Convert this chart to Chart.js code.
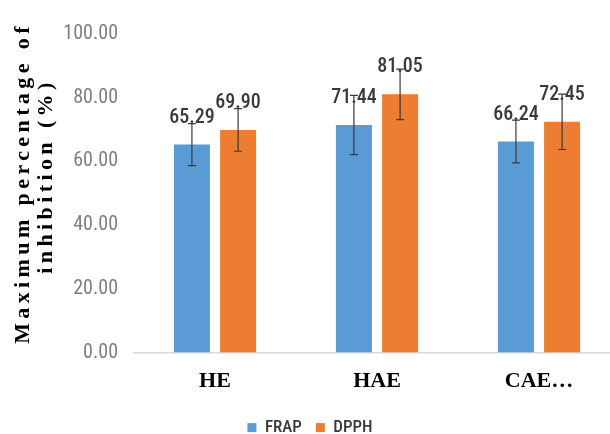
<!DOCTYPE html>
<html>
<head>
<meta charset="utf-8">
<script src="https://cdn.jsdelivr.net/npm/chart.js@4.4.0/dist/chart.umd.min.js"></script>
<style>
  html, body { margin: 0; padding: 0; background: #fff; overflow: hidden; }
  #wrap { width: 620px; height: 434px; }
</style>
</head>
<body>
<div id="wrap"><canvas id="inhibitionChart"></canvas></div>
<script>
// extracts and values
const categories = ["HE", "HAE", "CAE…"];
const frapValues = [65.29, 71.44, 66.24];
const dpphValues = [69.90, 81.05, 72.45];
const frapErrors = [6.6, 9.3, 6.7];
const dpphErrors = [6.7, 7.9, 8.7];
const yTicks = [0, 20, 40, 60, 80, 100];
const yTitle = ["Maximum percentage of", "inhibition (%)"];

const narrow = "'Roboto Condensed', 'Liberation Sans', sans-serif";
const serif = "'Liberation Serif', 'DejaVu Serif', serif";

/* value labels above bars, error bars on top, spaced y title */
const barExtras = {
  id: "barExtras",
  afterDatasetsDraw(chart) {
    const ctx = chart.ctx;
    const yScale = chart.scales.y;
    chart.data.datasets.forEach((ds, di) => {
      const meta = chart.getDatasetMeta(di);
      meta.data.forEach((bar, i) => {
        const v = ds.data[i];
        const err = ds.errors[i];
        ctx.save();
        ctx.font = "500 20px " + narrow;
        ctx.fillStyle = "#3a3a3a";
        ctx.textAlign = "center";
        ctx.textBaseline = "middle";
        ctx.fillText(v.toFixed(2), bar.x, bar.y - 27);
        ctx.restore();

        const yTop = yScale.getPixelForValue(v + err);
        const yBot = yScale.getPixelForValue(v - err);
        ctx.save();
        ctx.strokeStyle = "#3a3a3a";
        ctx.lineWidth = 1.2;
        ctx.beginPath();
        ctx.moveTo(bar.x, yTop);
        ctx.lineTo(bar.x, yBot);
        ctx.moveTo(bar.x - 4, yTop);
        ctx.lineTo(bar.x + 4, yTop);
        ctx.moveTo(bar.x - 4, yBot);
        ctx.lineTo(bar.x + 4, yBot);
        ctx.stroke();
        ctx.restore();
      });
    });

    // y axis title, bold serif with wide letter spacing
    ctx.save();
    ctx.translate(34, 183);
    ctx.rotate(-Math.PI / 2);
    ctx.font = "bold 22px " + serif;
    ctx.letterSpacing = "4.4px";
    ctx.fillStyle = "#000";
    ctx.textAlign = "center";
    ctx.textBaseline = "middle";
    ctx.fillText(yTitle[0], 0, -11);
    ctx.fillText(yTitle[1], 7, 12);
    ctx.restore();
  }
};

new Chart(document.getElementById("inhibitionChart"), {
  type: "bar",
  data: {
    labels: categories,
    datasets: [
      {
        label: "FRAP",
        data: frapValues,
        errors: frapErrors,
        backgroundColor: "#5b9bd5",
        categoryPercentage: 0.57,
        barPercentage: 0.78
      },
      {
        label: "DPPH",
        data: dpphValues,
        errors: dpphErrors,
        backgroundColor: "#ed7d31",
        categoryPercentage: 0.57,
        barPercentage: 0.78
      }
    ]
  },
  options: {
    responsive: true,
    maintainAspectRatio: false,
    animation: false,
    layout: { padding: { top: 34, bottom: -12.1 } },
    plugins: {
      tooltip: { enabled: false },
      legend: {
        position: "bottom",
        labels: {
          color: "#3a3a3a",
          font: { family: narrow, size: 17, weight: "500" },
          boxWidth: 9,
          boxHeight: 9,
          padding: 14
        }
      }
    },
    scales: {
      x: {
        grid: { display: false, drawTicks: false },
        border: { color: "#d9d9d9", width: 1.5 },
        ticks: {
          color: "#000",
          font: { family: serif, size: 22, weight: "bold" },
          padding: 16
        },
        afterFit(scale) { scale.height = 52.5; }
      },
      y: {
        min: 0,
        max: 100,
        afterBuildTicks(scale) { scale.ticks = yTicks.map(v => ({ value: v })); },
        grid: { display: false, drawTicks: false },
        border: { display: false },
        ticks: {
          color: "#7f7f7f",
          font: { family: narrow, size: 20 },
          padding: 16,
          callback: v => Number(v).toFixed(2)
        },
        afterFit(scale) { scale.width = 134; }
      }
    }
  },
  plugins: [barExtras]
});
</script>
</body>
</html>
